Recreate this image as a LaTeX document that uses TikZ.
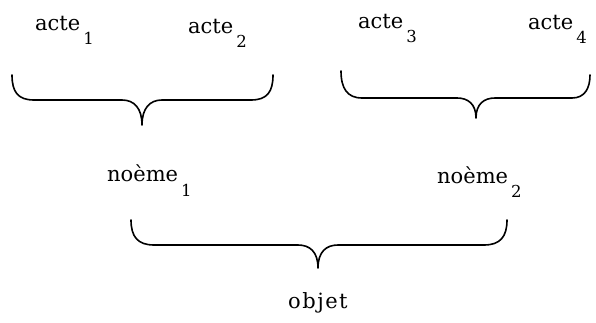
\documentclass[tikz,border=0pt]{standalone}
\usepackage{fontspec}
\newfontfamily\reffont{DejaVu Serif}
\newcommand{\wsub}[2]{#1\kern3pt\raisebox{-14pt}{\fontsize{16.5}{17}\selectfont #2}}
\begin{document}
\begin{tikzpicture}[x=1pt,y=-1pt,
  lab/.style={anchor=base west,inner sep=0pt,font=\reffont\fontsize{21}{25}\selectfont},
  bracepath/.style={line width=1.6pt,line cap=round,line join=round}]
\useasboundingbox (0,0) rectangle (596,323);
% texts
\node[lab] (a1) at (35,31) {\wsub{acte}{1}};
\node[lab] (a2) at (188,34) {\wsub{acte}{2}};
\node[lab] (a3) at (358,29) {\wsub{acte}{3}};
\node[lab] (a4) at (528,30) {\wsub{acte}{4}};
\node[lab] (n1) at (107,182) {\wsub{noème}{1}};
\node[lab] (n2) at (437,183) {\wsub{noème}{2}};
\node[lab] (ob) at (288,308) {o\kern1.5pt b\kern1.5pt j\kern1.5pt e\kern1.5pt t};
% brace 1
\coordinate (b1l) at (12,75);
\coordinate (b1r) at (273,75);
\coordinate (b1t) at (142,125);
\draw[bracepath] (b1l) .. controls (12,92) and (18,100) .. (34,100) -- (122,100)
  .. controls (134,100) and (142,108) .. (b1t)
  .. controls (142,108) and (150,100) .. (162,100) -- (251,100)
  .. controls (267,100) and (273,92) .. (b1r);
% brace 2
\coordinate (b2l) at (341,71);
\coordinate (b2r) at (590,75);
\coordinate (b2t) at (476,118);
\draw[bracepath] (b2l) .. controls (341,88) and (347,98) .. (362,98) -- (457,98)
  .. controls (468,98) and (476,104) .. (b2t)
  .. controls (476,104) and (484,98) .. (495,98) -- (572,98)
  .. controls (585,98) and (590,88) .. (b2r);
% brace 3
\coordinate (b3l) at (131,220);
\coordinate (b3r) at (507,220);
\coordinate (b3t) at (318,268);
\draw[bracepath] (b3l) .. controls (131,237) and (138,245) .. (154,245) -- (298,245)
  .. controls (310,245) and (318,252) .. (b3t)
  .. controls (318,252) and (326,245) .. (338,245) -- (484,245)
  .. controls (500,245) and (507,237) .. (b3r);
\end{tikzpicture}
\end{document}
